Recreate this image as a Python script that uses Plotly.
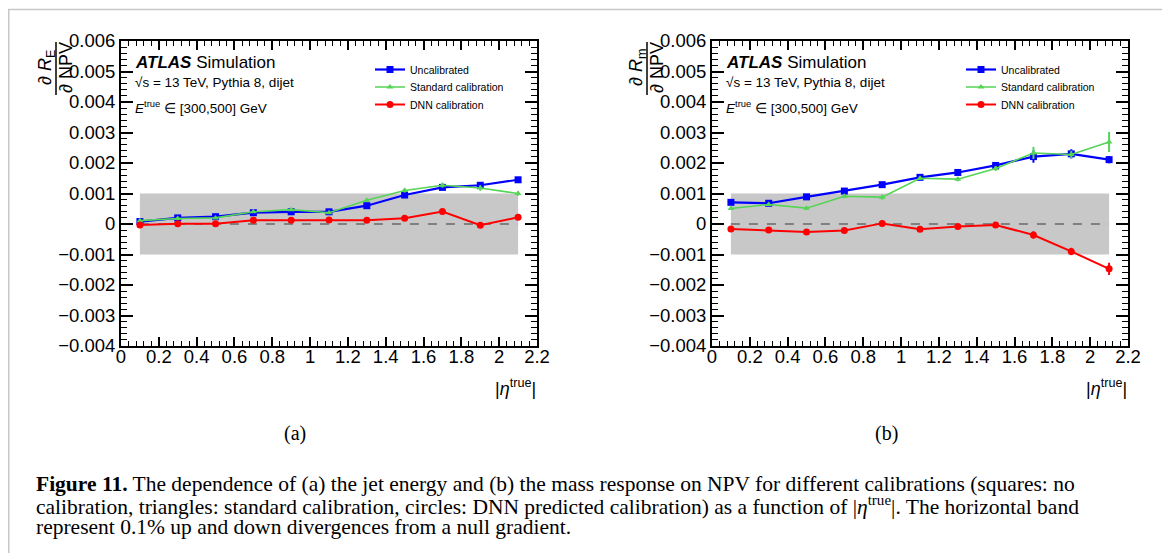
import plotly.graph_objects as go

# the page has an 8 px body margin, so the figure is placed at (8, 8)
OFF = 8
W, H = 1170 - OFF, 553 - OFF

# ---------------- data ----------------
eta = [0.1, 0.3, 0.5, 0.7, 0.9, 1.1, 1.3, 1.5, 1.7, 1.9, 2.1]

E_uncal = [0.00008, 0.00020, 0.00024, 0.00037, 0.00040, 0.00040, 0.00060, 0.00095, 0.00120, 0.00127, 0.00145]
E_uncal_err = [0.00003, 0.00003, 0.00003, 0.00003, 0.00004, 0.00004, 0.00004, 0.00005, 0.00006, 0.00007, 0.00006]
E_std = [0.00011, 0.00018, 0.00020, 0.00040, 0.00047, 0.00037, 0.00078, 0.00110, 0.00127, 0.00118, 0.00100]
E_std_err = [0.00003, 0.00003, 0.00003, 0.00003, 0.00004, 0.00004, 0.00004, 0.00007, 0.00008, 0.00009, 0.00007]
E_dnn = [-0.00003, 0.00001, 0.00001, 0.00012, 0.00012, 0.00013, 0.00012, 0.00019, 0.00041, -0.00004, 0.00022]
E_dnn_err = [0.00003, 0.00003, 0.00003, 0.00003, 0.00003, 0.00003, 0.00003, 0.00004, 0.00004, 0.00004, 0.00004]

m_uncal = [0.00071, 0.00068, 0.00089, 0.00108, 0.00129, 0.00153, 0.00169, 0.00192, 0.00221, 0.00230, 0.00211]
m_uncal_err = [0.00004, 0.00004, 0.00005, 0.00005, 0.00007, 0.00006, 0.00007, 0.00009, 0.00020, 0.00015, 0.00012]
m_std = [0.00051, 0.00064, 0.00052, 0.00091, 0.00088, 0.00150, 0.00147, 0.00182, 0.00233, 0.00228, 0.00269]
m_std_err = [0.00004, 0.00004, 0.00005, 0.00006, 0.00008, 0.00006, 0.00007, 0.00008, 0.00020, 0.00012, 0.00033]
m_dnn = [-0.00016, -0.00020, -0.00026, -0.00021, 0.00002, -0.00017, -0.00008, -0.00003, -0.00036, -0.00090, -0.00147]
m_dnn_err = [0.00004, 0.00004, 0.00005, 0.00005, 0.00005, 0.00006, 0.00007, 0.00008, 0.00012, 0.00012, 0.00020]

band_lo, band_hi = -0.001, 0.001
band_x0, band_x1 = 0.1, 2.1

series_names = ["Uncalibrated", "Standard calibration", "DNN calibration"]
x_range = [0, 2.2]
y_range = [-0.004, 0.006]

# ---------------- styling ----------------
SANS = "Liberation Sans, Arial, sans-serif"
SERIF = "Liberation Serif, Times New Roman, serif"
BLUE, GREEN, RED = "#0000ff", "#55d455", "#ff0000"


def px(x):  # page pixel -> paper
    return (x - OFF) / W


def py(y):
    return 1 - (y - OFF) / H


TOP, BOT = 41, 346
panels = [
    dict(xa="x", ya="y", x0=121, x1=537, legx=410,
         data=[(E_uncal, E_uncal_err), (E_std, E_std_err), (E_dnn, E_dnn_err)], sub="E", tag="(a)", tagx=295),
    dict(xa="x2", ya="y2", x0=712, x1=1128, legx=1001,
         data=[(m_uncal, m_uncal_err), (m_std, m_std_err), (m_dnn, m_dnn_err)], sub="m", tag="(b)", tagx=886),
]
legend_rows = [69.5, 87, 104.5]

styles = [
    dict(color=BLUE, symbol="square", size=7, lw=2.2),
    dict(color=GREEN, symbol="triangle-up", size=6, lw=1.6),
    dict(color=RED, symbol="circle", size=7, lw=2.0),
]

fig = go.Figure()
annotations = []
shapes = []
legends = {}
k = 0
for p in panels:
    for i, (name, (vals, errs), st) in enumerate(zip(series_names, p["data"], styles)):
        k += 1
        lname = "legend" if k == 1 else "legend%d" % k
        legends[lname] = dict(x=px(p["legx"] - 40), y=py(legend_rows[i]), xanchor="left", yanchor="middle",
                              bgcolor="rgba(0,0,0,0)", font=dict(family=SANS, size=10.5, color="black"),
                              itemwidth=30, borderwidth=0, visible=True)
        fig.add_trace(go.Scatter(
            x=eta, y=vals, name=name, mode="lines+markers", showlegend=True,
            xaxis=p["xa"], yaxis=p["ya"], legend=lname,
            line=dict(color=st["color"], width=st["lw"]),
            marker=dict(color=st["color"], symbol=st["symbol"], size=st["size"], line=dict(width=0)),
            error_y=dict(type="data", array=errs, visible=True, color=st["color"], thickness=2, width=0),
        ))
    xr, yr = p["xa"], p["ya"]
    shapes.append(dict(type="rect", xref=xr, yref=yr, x0=band_x0, x1=band_x1, y0=band_lo, y1=band_hi,
                       fillcolor="#c8c8c8", line=dict(width=0), layer="below"))
    shapes.append(dict(type="line", xref=xr, yref=yr, x0=band_x0, x1=band_x1, y0=0, y1=0,
                       line=dict(color="#808080", width=2, dash="dash"), layer="below"))

    off = p["x0"] - 121
    # y title as a fraction
    annotations.append(dict(xref="paper", yref="paper", x=px(46 + off), y=py(68), textangle=-90,
                            text="\u2202 <i>R</i><sub>%s</sub>" % p["sub"], showarrow=False,
                            font=dict(family=SANS, size=18, color="black"), xanchor="center", yanchor="middle"))
    annotations.append(dict(xref="paper", yref="paper", x=px(66 + off), y=py(68), textangle=-90,
                            text="\u2202 NPV", showarrow=False,
                            font=dict(family=SANS, size=18, color="black"), xanchor="center", yanchor="middle"))
    shapes.append(dict(type="line", xref="paper", yref="paper", x0=px(56 + off), x1=px(56 + off),
                       y0=py(42), y1=py(95), line=dict(color="black", width=1.5)))
    # x title
    annotations.append(dict(xref="paper", yref="paper", x=px(p["x1"] + 1), y=py(387),
                            text="|<i>\u03b7</i><sup>true</sup>|", showarrow=False,
                            font=dict(family=SANS, size=18, color="black"), xanchor="right", yanchor="middle"))
    # ATLAS labels
    annotations.append(dict(xref="paper", yref="paper", x=px(p["x0"] + 12), y=py(62),
                            text="<b><i>ATLAS</i></b> Simulation", showarrow=False,
                            font=dict(family=SANS, size=17, color="black"), xanchor="left", yanchor="middle"))
    annotations.append(dict(xref="paper", yref="paper", x=px(p["x0"] + 12), y=py(82),
                            text="\u221As = 13 TeV, Pythia 8, dijet", showarrow=False,
                            font=dict(family=SANS, size=13.5, color="black"), xanchor="left", yanchor="middle"))
    annotations.append(dict(xref="paper", yref="paper", x=px(p["x0"] + 12), y=py(107),
                            text="<i>E</i><sup>true</sup> \u2208 [300,500] GeV", showarrow=False,
                            font=dict(family=SANS, size=13.5, color="black"), xanchor="left", yanchor="middle"))
    # sub-figure tag
    annotations.append(dict(xref="paper", yref="paper", x=px(p["tagx"]), y=py(433),
                            text=p["tag"], showarrow=False,
                            font=dict(family=SERIF, size=20, color="black"),
                            xanchor="center", yanchor="middle"))

caption_lines = [
    "<b>Figure 11.</b> The dependence of (a) the jet energy and (b) the mass response on NPV for different calibrations (squares: no",
    "calibration, triangles: standard calibration, circles: DNN predicted calibration) as a function of |<i>\u03b7</i><sup>true</sup>|. The horizontal band",
    "represent 0.1% up and down divergences from a null gradient.",
]
for i, line in enumerate(caption_lines):
    annotations.append(dict(xref="paper", yref="paper", x=px(34), y=py(484 + 21.3 * i), text=line,
                            showarrow=False, font=dict(family=SERIF, size=21.5, color="black"),
                            xanchor="left", yanchor="middle"))

# outer frame
shapes.append(dict(type="rect", xref="paper", yref="paper", x0=px(8.75), x1=px(1163), y0=py(600), y1=py(9.5),
                   line=dict(color="#c8c8c8", width=1.5), fillcolor="rgba(0,0,0,0)"))


def xaxis(dom, anchor):
    return dict(domain=dom, anchor=anchor, range=x_range, dtick=0.2, tick0=0,
                showline=True, linewidth=2, linecolor="black", mirror="allticks",
                ticks="inside", ticklen=9, tickwidth=1.5, tickcolor="black",
                minor=dict(dtick=0.04, ticks="inside", ticklen=5, tickwidth=1.2, tickcolor="black", showgrid=False),
                showgrid=False, zeroline=False, exponentformat="none", ticklabelstandoff=-7,
                tickfont=dict(family=SANS, size=18.5, color="black"))


def yaxis(anchor):
    return dict(domain=[py(BOT), py(TOP)], anchor=anchor, range=y_range, dtick=0.001, tick0=0,
                showline=True, linewidth=2, linecolor="black", mirror="allticks",
                ticks="inside", ticklen=12, tickwidth=1.5, tickcolor="black",
                minor=dict(dtick=0.0002, ticks="inside", ticklen=6, tickwidth=1.2, tickcolor="black", showgrid=False),
                showgrid=False, zeroline=False, exponentformat="none",
                tickfont=dict(family=SANS, size=18.5, color="black"))


fig.update_layout(
    width=W, height=H, margin=dict(l=0, r=0, t=0, b=0, autoexpand=False),
    paper_bgcolor="white", plot_bgcolor="rgba(0,0,0,0)", showlegend=True,
    xaxis=xaxis([px(panels[0]["x0"]), px(panels[0]["x1"])], "y"),
    yaxis=yaxis("x"),
    xaxis2=xaxis([px(panels[1]["x0"]), px(panels[1]["x1"])], "y2"),
    yaxis2=yaxis("x2"),
    annotations=annotations,
    shapes=shapes,
    **legends,
)

fig.write_html("out.html")
